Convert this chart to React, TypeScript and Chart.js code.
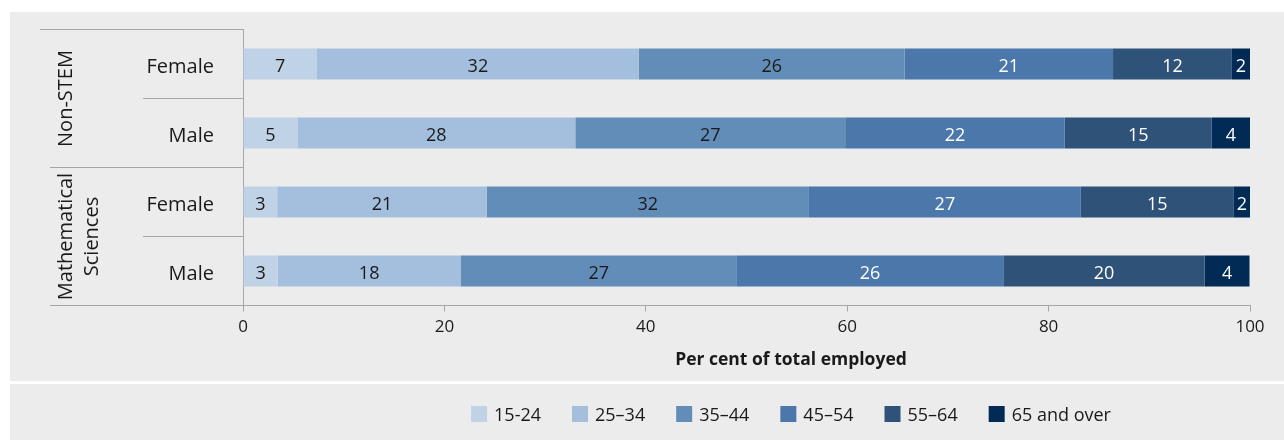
import React, { useEffect, useRef } from "react";
import { Chart, registerables } from "chart.js";

Chart.register(...registerables);

// ---------- data ----------
const rowLabels = ["Female", "Male", "Female", "Male"];
const groupNonStem = ["Non-STEM"];
const groupMaths = ["Mathematical", "Sciences"];
const ageGroups = ["15-24", "25–34", "35–44", "45–54", "55–64", "65 and over"];
const age15to24 = [7.35, 5.4, 3.4, 3.45];
const age25to34 = [31.95, 27.6, 20.8, 18.15];
const age35to44 = [26.4, 26.8, 32.0, 27.45];
const age45to54 = [20.7, 21.8, 27.0, 26.45];
const age55to64 = [11.8, 14.6, 15.2, 20.0];
const age65plus = [1.8, 3.8, 1.6, 4.45];
const xTicks = [0, 20, 40, 60, 80, 100];
const xTitle = "Per cent of total employed";

// ---------- styles ----------
const FONT = "'Open Sans'";
const TEXT = "#1a1a1a";
const LINE = "#a6a6a6";
const PANEL = "#ececec";
const colors = ["#bfd2e6", "#a3bfdd", "#628db9", "#4b77aa", "#2f5378", "#012b55"];
const labelColors = [TEXT, TEXT, TEXT, "#ffffff", "#ffffff", "#ffffff"];
const seriesValues = [age15to24, age25to34, age35to44, age45to54, age55to64, age65plus];

const decorPlugin = {
  id: "decor",
  afterDatasetsDraw(chart: any) {
    const ctx = chart.ctx;
    ctx.save();
    ctx.font = `18px ${FONT}`;
    ctx.textAlign = "center";
    ctx.textBaseline = "middle";
    chart.data.datasets.forEach((ds: any, i: number) => {
      const meta = chart.getDatasetMeta(i);
      meta.data.forEach((bar: any, j: number) => {
        const p = bar.getProps(["x", "base", "y"], true);
        ctx.fillStyle = labelColors[i];
        ctx.fillText(String(Math.round(ds.data[j])), (p.x + p.base) / 2, p.y + 2.5);
      });
    });
    ctx.restore();
  },
  afterDraw(chart: any) {
    const ctx = chart.ctx;
    const area = chart.chartArea;
    const y = chart.scales.y;
    const c = (i: number) => y.getPixelForValue(i);
    const mid = (i: number) => (c(i) + c(i + 1)) / 2;
    ctx.save();
    ctx.strokeStyle = LINE;
    ctx.lineWidth = 1;
    const hline = (yy: number, x0: number) => {
      ctx.beginPath();
      ctx.moveTo(x0, Math.floor(yy) + 0.5);
      ctx.lineTo(area.left, Math.floor(yy) + 0.5);
      ctx.stroke();
    };
    hline(area.top, 40);
    hline(mid(0), 143);
    hline(mid(1), 50);
    hline(mid(2), 143);
    hline(area.bottom, 50);

    // group labels (rotated)
    ctx.fillStyle = TEXT;
    ctx.font = `20px ${FONT}`;
    ctx.textAlign = "center";
    ctx.textBaseline = "middle";
    const drawGroup = (lines: string[], cy: number) => {
      const lh = 26;
      const x0 = 66;
      lines.forEach((t, k) => {
        ctx.save();
        ctx.translate(x0 + k * lh, cy);
        ctx.rotate(-Math.PI / 2);
        ctx.fillText(t, 0, 0);
        ctx.restore();
      });
    };
    drawGroup(groupNonStem, (area.top + mid(1)) / 2);
    drawGroup(groupMaths, (mid(1) + area.bottom) / 2);

    // x-axis title
    ctx.font = `bold 17.5px ${FONT}`;
    ctx.fillText(xTitle, 791, 360);

    // legend
    ctx.font = `18px ${FONT}`;
    const box = 16, gapText = 7, gapItem = 31;
    const widths = ageGroups.map((t) => ctx.measureText(t).width);
    const total = widths.reduce((a, w) => a + box + gapText + w, 0) + gapItem * (ageGroups.length - 1);
    let lx = 791 - total / 2;
    const ly = 414;
    ctx.textAlign = "left";
    ageGroups.forEach((t, i) => {
      ctx.fillStyle = colors[i];
      ctx.fillRect(lx, ly - box / 2, box, box);
      ctx.fillStyle = TEXT;
      ctx.fillText(t, lx + box + gapText, ly + 2);
      lx += box + gapText + widths[i] + gapItem;
    });
    ctx.restore();
  },
};

export default function App() {
  const ref = useRef<HTMLCanvasElement>(null);
  useEffect(() => {
    if (!ref.current) return;
    const chart = new Chart(ref.current, {
      type: "bar",
      data: {
        labels: rowLabels,
        datasets: ageGroups.map((g, i) => ({
          label: g,
          data: seriesValues[i],
          backgroundColor: colors[i],
          borderWidth: 0,
          barPercentage: 0.45,
          categoryPercentage: 1,
        })),
      },
      options: {
        indexAxis: "y",
        responsive: false,
        animation: false,
        devicePixelRatio: 1,
        layout: { padding: { left: 0, right: 34, top: 29.5, bottom: 0 } },
        plugins: { legend: { display: false }, tooltip: { enabled: false }, title: { display: false } },
        scales: {
          x: {
            stacked: true,
            min: 0,
            max: 100,
            afterBuildTicks: (s: any) => {
              s.ticks = xTicks.map((v) => ({ value: v }));
            },
            afterFit: (s: any) => {
              s.height = 440 - 305.5;
              s.paddingLeft = 0;
              s.paddingRight = 0;
            },
            grid: { display: true, drawOnChartArea: false, drawTicks: true, tickLength: 6, color: LINE },
            border: { display: true, color: LINE },
            ticks: { color: TEXT, font: { family: FONT, size: 17 }, padding: 5, maxRotation: 0 },
          },
          y: {
            stacked: true,
            afterFit: (s: any) => {
              s.width = 243;
              s.paddingTop = 0;
              s.paddingBottom = 0;
            },
            grid: { display: false, drawTicks: false },
            border: { display: true, color: LINE },
            ticks: { color: TEXT, font: { family: FONT, size: 20 }, padding: 29, labelOffset: 3 },
          },
        },
      },
      plugins: [decorPlugin],
    } as any);
    return () => chart.destroy();
  }, []);

  return (
    <div style={{ position: "absolute", left: 0, top: 0, width: 1284, height: 440, background: "#ffffff" }}>
      <div style={{ position: "absolute", left: 10, top: 12, width: 1274, height: 369, background: PANEL }} />
      <div style={{ position: "absolute", left: 10, top: 384, width: 1274, height: 56, background: PANEL }} />
      <canvas ref={ref} width={1284} height={440} style={{ position: "absolute", left: 0, top: 0, width: 1284, height: 440 }} />
    </div>
  );
}
